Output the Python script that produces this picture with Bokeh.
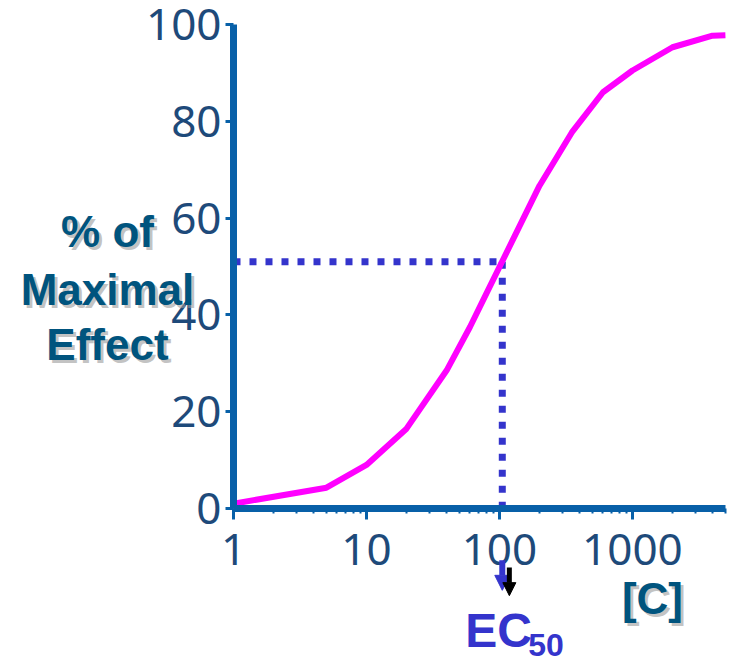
from bokeh.plotting import figure
from bokeh.models import Range1d, LogTicker, SingleIntervalTicker, PrintfTickFormatter, Label, Arrow, NormalHead, LogAxis, LinearAxis
from bokeh.embed import file_html
from bokeh.resources import INLINE

# ---- data ----
conc = [1, 5, 10, 20, 40, 60, 80, 200, 350, 600, 1000, 2000, 4000, 5000]
effect = [1, 4.3, 9, 16.5, 28.5, 37.5, 44.5, 66.7, 77.7, 86, 90.5, 95.3, 97.7, 97.8]
ec50 = 105
half_effect = 51
x_bounds = (1, 5000)
y_bounds = (0, 100)
y_ticks_interval = 20
y_label_lines = ["% of", "Maximal", "Effect"]
x_label = "[C]"

AX = "#0860a8"
TICKC = "#1e4a7a"
LABC = "#00547e"
BLUE = "#3434cc"
MAG = "#ff00ff"

# frame spans the whole canvas; axes are pinned at x=1 and y=0
p = figure(width=743, height=663, x_axis_type="log", output_backend="svg",
           toolbar_location=None, x_range=Range1d(0.0177, 6839), y_range=Range1d(-32.02, 104.96),
           x_axis_location=None, y_axis_location=None,
           min_border=0, min_border_left=0, min_border_right=0, min_border_top=0, min_border_bottom=0)
p.outline_line_color = None
p.grid.visible = False
p.background_fill_color = "white"
p.border_fill_color = "white"

xaxis = LogAxis(fixed_location=y_bounds[0], bounds=x_bounds,
                ticker=LogTicker(num_minor_ticks=10), formatter=PrintfTickFormatter(format="%d"))
yaxis = LinearAxis(fixed_location=x_bounds[0], bounds=y_bounds,
                   ticker=SingleIntervalTicker(interval=y_ticks_interval))
p.add_layout(xaxis, "below")
p.add_layout(yaxis, "left")

for ax in (xaxis, yaxis):
    ax.axis_line_color = AX
    ax.axis_line_width = 7
    ax.major_tick_line_color = AX
    ax.major_tick_line_width = 3
    ax.major_tick_in = 0
    ax.major_label_text_font = "Noto Sans"
    ax.major_label_text_font_size = "44px"
    ax.major_label_text_color = TICKC

xaxis.major_tick_out = 11
xaxis.minor_tick_out = 5
xaxis.minor_tick_in = 0
xaxis.minor_tick_line_color = AX
xaxis.minor_tick_line_width = 2
xaxis.major_label_standoff = 14

yaxis.minor_tick_line_color = None
yaxis.major_tick_out = 8
yaxis.major_label_standoff = 4

# dotted EC50 guide lines
p.line([x_bounds[0], ec50], [half_effect, half_effect], line_color=BLUE, line_width=7, line_dash="7 9")
p.line([ec50, ec50], [half_effect, y_bounds[0]], line_color=BLUE, line_width=7, line_dash="7 9")

# curve
p.line(conc, effect, line_color=MAG, line_width=6)

FONT = "Liberation Sans"

def shadow_label(x, y, xo, txt, size, color, align="center"):
    p.add_layout(Label(x=x, y=y - 0.6, x_offset=xo + 3, text=txt, text_align=align,
                       text_baseline="alphabetic", text_font=FONT, text_font_style="bold",
                       text_font_size=size, text_color="#9a9a9a", text_alpha=0.6))
    p.add_layout(Label(x=x, y=y, x_offset=xo, text=txt, text_align=align,
                       text_baseline="alphabetic", text_font=FONT, text_font_style="bold",
                       text_font_size=size, text_color=color))

# y label
ybase = [57.2, 45.2, 33.9]
for txt, yb in zip(y_label_lines, ybase):
    shadow_label(x_bounds[0], yb, -126, txt, "44px", LABC)

# [C] label
shadow_label(1000, -18.6, 20, x_label, "44px", LABC)

# EC50 label
p.add_layout(Label(x=ec50, y=-25.1, x_offset=-37, text="EC", text_align="left",
                   text_baseline="alphabetic", text_font=FONT,
                   text_font_style="bold", text_font_size="48px", text_color=BLUE))
p.add_layout(Label(x=ec50, y=-28.2, x_offset=26, text="50", text_align="left",
                   text_baseline="alphabetic", text_font=FONT,
                   text_font_style="bold", text_font_size="32px", text_color=BLUE))

# arrows
p.add_layout(Arrow(x_start=ec50, y_start=-10.7, x_end=ec50, y_end=-16.9, line_color=BLUE, line_width=6,
                   end=NormalHead(size=15, fill_color=BLUE, line_color=BLUE)))
p.add_layout(Arrow(x_start=ec50 * 1.13, y_start=-12.2, x_end=ec50 * 1.13, y_end=-18.0, line_color="black",
                   line_width=5, end=NormalHead(size=13, fill_color="black", line_color="black")))

open("out.html", "w").write(file_html(p, INLINE))
